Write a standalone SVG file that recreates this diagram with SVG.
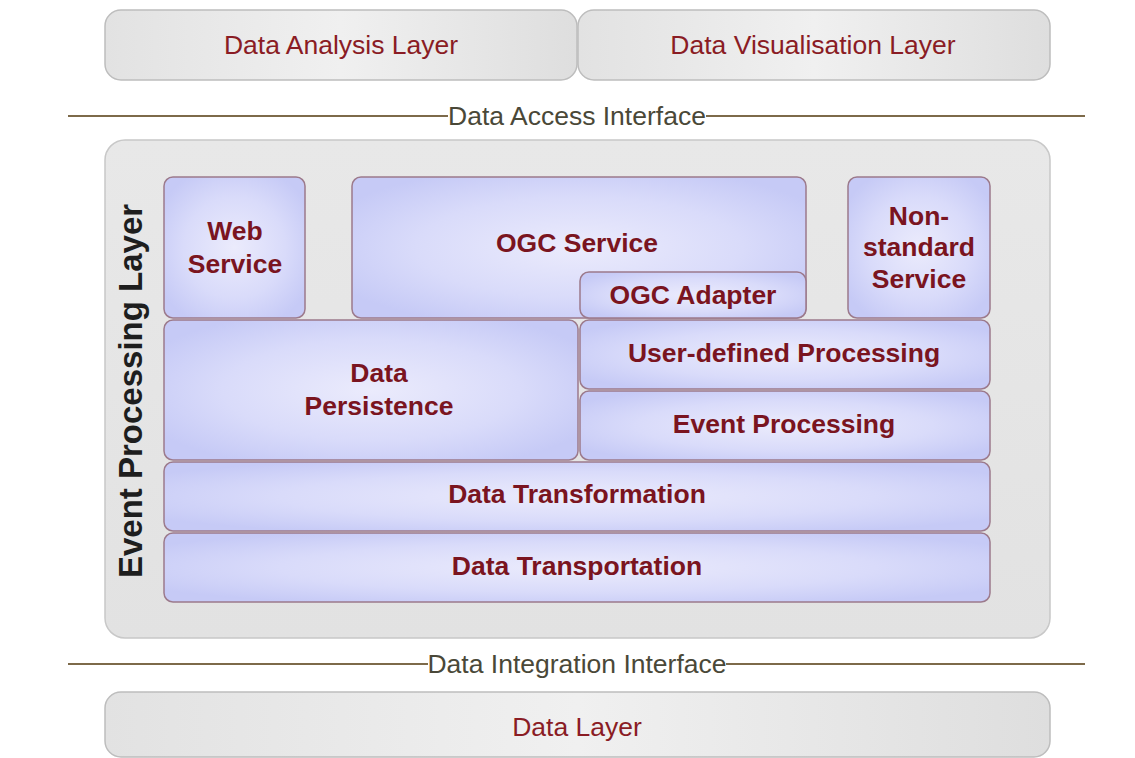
<svg xmlns="http://www.w3.org/2000/svg" width="1135" height="758" viewBox="0 0 1135 758">
<style>
.gray{stroke:#bdbdbd;stroke-width:1.5;fill:url(#gGray)}
.cont{stroke:#c8c8c8;stroke-width:1.5;fill:url(#gCont)}
.blue{stroke:#9c7a8c;stroke-width:1.5;fill:url(#gBlue)}
.lt{font-family:"Liberation Sans",Arial,sans-serif;font-size:26.5px;fill:#8a1c24;text-anchor:middle}
.bt{font-family:"Liberation Sans",Arial,sans-serif;font-size:26.5px;font-weight:bold;fill:#7a1420;text-anchor:middle}
.it{font-family:"Liberation Sans",Arial,sans-serif;font-size:26.5px;fill:#4a4838;text-anchor:middle}
.ifl{stroke:#7d6a4a;stroke-width:2}
</style>
<defs>
<linearGradient id="gGray" x1="0" y1="0" x2="1" y2="0">
<stop offset="0" stop-color="#e2e2e2"/>
<stop offset="0.5" stop-color="#f0f0f0"/>
<stop offset="1" stop-color="#dedede"/>
</linearGradient>
<linearGradient id="gCont" x1="0" y1="0" x2="0" y2="1">
<stop offset="0" stop-color="#e8e8e8"/>
<stop offset="1" stop-color="#e2e2e2"/>
</linearGradient>
<radialGradient id="gBlue" cx="0.5" cy="0.5" r="0.6">
<stop offset="0" stop-color="#ebebfc"/>
<stop offset="0.6" stop-color="#d9dbfa"/>
<stop offset="1" stop-color="#c6caf6"/>
</radialGradient>
</defs>
<rect width="1135" height="758" fill="#ffffff"/>

<g id="data-analysis-layer">
<rect class="gray" x="105" y="10" width="472" height="70" rx="16"/>
<text class="lt" x="341" y="54">Data Analysis Layer</text>
</g>
<g id="data-visualisation-layer">
<rect class="gray" x="578" y="10" width="472" height="70" rx="16"/>
<text class="lt" x="813" y="54">Data Visualisation Layer</text>
</g>

<g id="interfaces">
<line class="ifl" x1="68" y1="116" x2="448" y2="116"/>
<line class="ifl" x1="706" y1="116" x2="1085" y2="116"/>
<text class="it" x="577" y="125">Data Access Interface</text>
<line class="ifl" x1="68" y1="664" x2="428" y2="664"/>
<line class="ifl" x1="726" y1="664" x2="1085" y2="664"/>
<text class="it" x="577" y="673">Data Integration Interface</text>
</g>

<g id="event-processing-layer">
<rect class="cont" x="105" y="140" width="945" height="498" rx="20"/>
<text transform="translate(142,391) rotate(-90)" font-family="Liberation Sans, Arial, sans-serif" font-size="33" font-weight="bold" fill="#1e1e1e" text-anchor="middle">Event Processing Layer</text>
</g>

<g id="web-service">
<rect class="blue" x="164" y="177" width="141" height="141" rx="9"/>
<text class="bt" x="235" y="240">Web</text>
<text class="bt" x="235" y="273">Service</text>
</g>
<g id="ogc-service">
<rect class="blue" x="352" y="177" width="454" height="141" rx="9"/>
<text class="bt" x="577" y="252">OGC Service</text>
</g>
<g id="ogc-adapter">
<rect class="blue" x="580" y="272" width="226" height="46" rx="9"/>
<text class="bt" x="693" y="304">OGC Adapter</text>
</g>
<g id="non-standard-service">
<rect class="blue" x="848" y="177" width="142" height="141" rx="9"/>
<text class="bt" x="919" y="225">Non-</text>
<text class="bt" x="919" y="256">standard</text>
<text class="bt" x="919" y="288">Service</text>
</g>
<g id="data-persistence">
<rect class="blue" x="164" y="320" width="414" height="140" rx="9"/>
<text class="bt" x="379" y="382">Data</text>
<text class="bt" x="379" y="415">Persistence</text>
</g>
<g id="user-defined-processing">
<rect class="blue" x="580" y="320" width="410" height="69" rx="9"/>
<text class="bt" x="784" y="362">User-defined Processing</text>
</g>
<g id="event-processing">
<rect class="blue" x="580" y="391" width="410" height="69" rx="9"/>
<text class="bt" x="784" y="433">Event Processing</text>
</g>
<g id="data-transformation">
<rect class="blue" x="164" y="462" width="826" height="69" rx="9"/>
<text class="bt" x="577" y="503">Data Transformation</text>
</g>
<g id="data-transportation">
<rect class="blue" x="164" y="533" width="826" height="69" rx="9"/>
<text class="bt" x="577" y="575">Data Transportation</text>
</g>

<g id="data-layer">
<rect class="gray" x="105" y="692" width="945" height="65" rx="16"/>
<text class="lt" x="577" y="736">Data Layer</text>
</g>
</svg>
